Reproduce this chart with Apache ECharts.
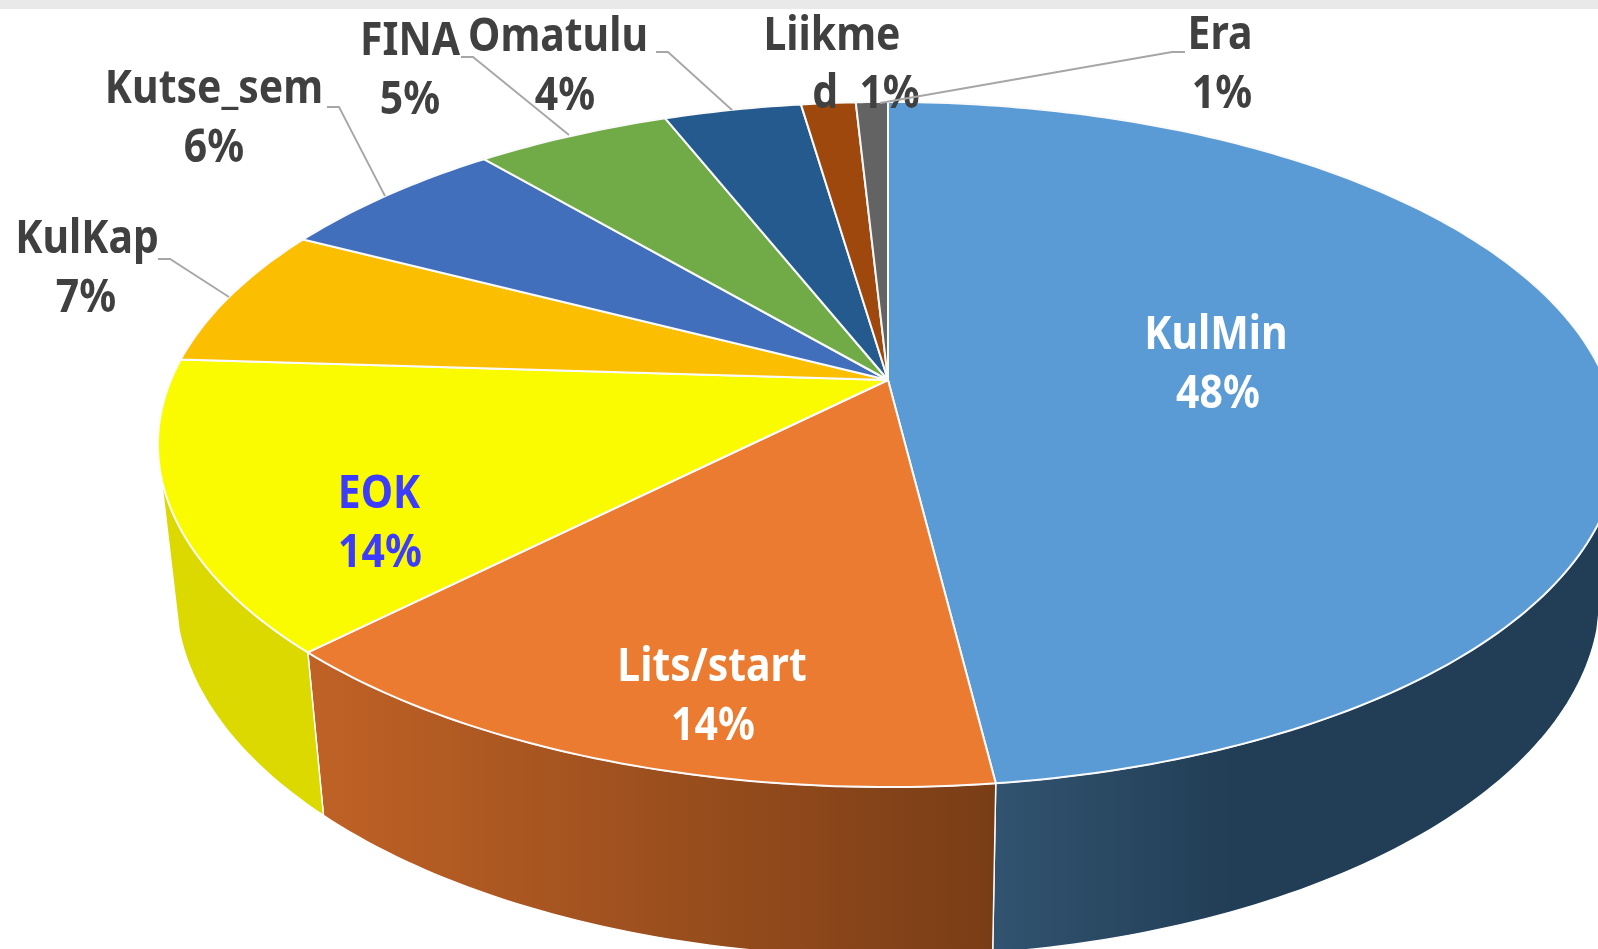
<!DOCTYPE html>
<html>
<head>
<meta charset="utf-8">
<title>Pie</title>
<style>
	html, body { margin: 0; padding: 0; background: #fff; }
	#main { width: 1598px; height: 949px; }
</style>
<script src="https://cdn.jsdelivr.net/npm/echarts@6/dist/echarts.min.js"></script>
</head>
<body>
<div id="main"></div>
<script>
// data, slices go clockwise from 12 o'clock
var categories = ['KulMin', 'Lits/start', 'EOK', 'KulKap', 'Kutse_sem', 'FINA', 'Omatulu', 'Liikmed', 'Era'];
var shares = [48.05, 14.3, 13.65, 6.65, 6.2, 5.2, 3.65, 1.45, 0.85];
var nameRows = ['KulMin', 'Lits/start', 'EOK', 'KulKap', 'Kutse_sem', 'FINA', 'Omatulu', 'Liikme', 'Era'];
var percentRows = ['48%', '14%', '14%', '7%', '6%', '5%', '4%', 'd  1%', '1%'];

// colours
var topColors = ['#5b9bd5', '#ea7b30', '#fbfb00', '#fcbe00', '#416fbb', '#70ab47', '#255a8e', '#9e480e', '#636363'];
var wallColors = [
	['#31536f', '#223e56', 996, 1230],
	['#c06226', '#793d16', 308, 996],
	['#dbd900', '#dbd900', 160, 323]
];
var labelColors = ['#fff', '#fff', '#3c3cff', '#404040', '#404040', '#404040', '#404040', '#404040', '#404040'];

// label centres [name x, name y, percent x, percent y]
var labelPlaces = [
	[1216, 336, 1218, 395],
	[712, 668, 713, 727],
	[379, 495, 380, 554],
	[87, 240, 86, 299],
	[214, 90, 214, 149],
	[410, 42, 410, 101],
	[558, 38, 565, 97],
	[832, 37, 866, 95],
	[1220, 36, 1222, 95]
];
// leader lines
var leaders = [
	null, null, null,
	[[158, 259], [170, 259], [229, 297]],
	[[327, 107], [339, 107], [385, 196]],
	[[461, 57], [473, 57], [569, 135]],
	[[656, 52], [668, 52], [732, 110]],
	null,
	[[1185, 52], [1172, 52], [880, 103]]
];

// perspective of the disc: (X,Y) on unit circle, depth 0 = top face, 1 = bottom face
var cx = 888, cy = 380;
var sx = 717, sy = 330.4, k = 0.1883, dz = 0.024, lift = 151.5;
function project(angle, depth) {
	var X = Math.sin(angle), Y = -Math.cos(angle);
	var w = 1 - k * Y + dz * depth;
	return [cx + sx * X / w, cy + (sy * Y + lift * depth) / w];
}

// the side is only seen between these two angles
var sideFrom = 106 / 180 * Math.PI, sideTo = 254 / 180 * Math.PI;

// start and end angle for every slice
var total = shares.reduce(function(a, b) { return a + b; }, 0);
var starts = [], ends = [], sum = 0;
shares.forEach(function(v) {
	starts.push(sum / total * Math.PI * 2);
	sum += v;
	ends.push(sum / total * Math.PI * 2);
});

function arcPoints(from, to, depth) {
	var pts = [];
	var n = Math.max(6, Math.ceil((to - from) * 60));
	for (var j = 0; j <= n; j++) {
		pts.push(project(from + (to - from) * j / n, depth));
	}
	return pts;
}

function renderWall(params) {
	var i = params.dataIndex;
	var c = wallColors[i];
	if (!c) return null; // the back slices show no side
	var from = Math.max(starts[i], sideFrom), to = Math.min(ends[i], sideTo);
	var pts = arcPoints(from, to, 0).concat(arcPoints(from, to, 1).reverse());
	return {
		type: 'polygon',
		shape: { points: pts },
		style: {
			fill: new echarts.graphic.LinearGradient(c[2], 0, c[3], 0, [
				{ offset: 0, color: c[0] },
				{ offset: 1, color: c[1] }
			], true),
			stroke: '#fff',
			lineWidth: 1.4
		}
	};
}

function renderTop(params) {
	var i = params.dataIndex;
	return {
		type: 'polygon',
		shape: { points: [[cx, cy]].concat(arcPoints(starts[i], ends[i], 0)) },
		style: { fill: topColors[i], stroke: '#fafafa', lineWidth: 2, lineJoin: 'round' }
	};
}

function labelText(text, x, y, color) {
	return {
		type: 'text',
		x: x,
		y: y,
		scaleX: 0.89,
		style: {
			text: text,
			fill: color,
			font: 'bold 46px "Noto Sans"',
			align: 'center',
			verticalAlign: 'middle'
		}
	};
}

function renderLabel(params) {
	var i = params.dataIndex;
	var p = labelPlaces[i];
	var kids = [];
	if (leaders[i]) {
		kids.push({
			type: 'polyline',
			shape: { points: leaders[i] },
			style: { fill: null, stroke: '#a6a6a6', lineWidth: 1.8 }
		});
	}
	kids.push(labelText(nameRows[i], p[0], p[1], labelColors[i]));
	kids.push(labelText(percentRows[i], p[2], p[3], labelColors[i]));
	return { type: 'group', children: kids };
}

var pieData = categories.map(function(name, i) {
	return { name: name, value: shares[i] };
});

var myChart = echarts.init(document.getElementById('main'));
var option = {
	backgroundColor: '#fff',
	animation: false,
	graphic: [{
		type: 'rect',
		z: 100,
		shape: { x: 0, y: 0, width: 1598, height: 9 },
		style: { fill: '#e9e9e9' }
	}],
	series: [
		{ type: 'custom', name: 'side', coordinateSystem: 'none', z: 1, silent: true, data: pieData, renderItem: renderWall },
		{ type: 'custom', name: 'top', coordinateSystem: 'none', z: 2, silent: true, data: pieData, renderItem: renderTop },
		{ type: 'custom', name: 'labels', coordinateSystem: 'none', z: 3, silent: true, data: pieData, renderItem: renderLabel }
	]
};
myChart.setOption(option);
</script>
</body>
</html>
